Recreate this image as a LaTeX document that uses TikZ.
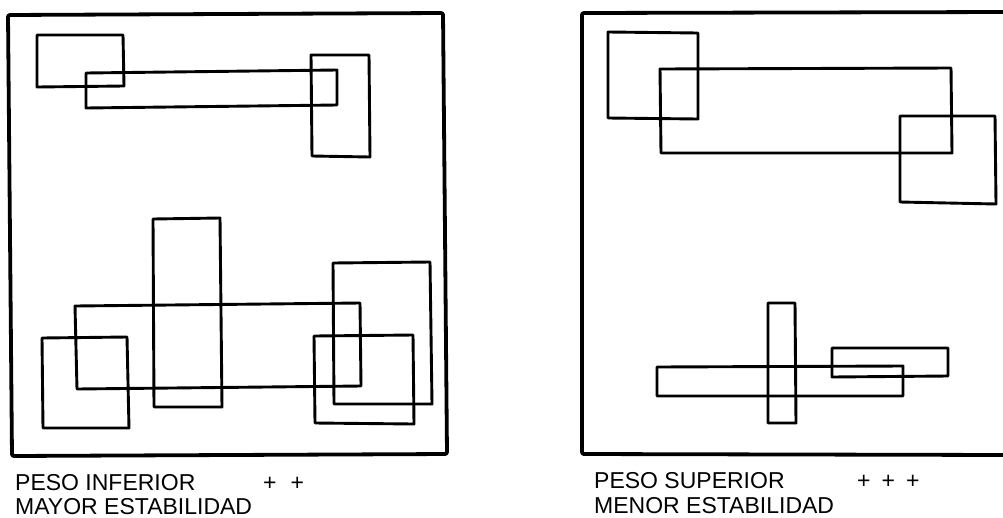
\documentclass[tikz,border=0pt]{standalone}
\usepackage{fontspec}
\setmainfont{Liberation Sans}
\begin{document}
\begin{tikzpicture}[x=1pt,y=-1pt,
  frame/.style={line width=3.8pt, line join=round, rounded corners=2pt},
  piece/.style={line width=2.9pt, line join=round},
  lbl/.style={font=\fontsize{23}{27}\selectfont, inner sep=0pt, text depth=0pt, anchor=base west}]
\useasboundingbox (0,0) rectangle (1003,517);
\clip (0,0) rectangle (1003,517);
% ---------- left panel ----------
\draw[frame] (8,15) -- (443,13) -- (447,454) -- (12,456) -- cycle;
% upper group
\draw[piece] (37,35) -- (123,35) -- (124,86) -- (37,87) -- cycle;
\draw[piece] (86,73) -- (337,70) -- (337,105) -- (86,108) -- cycle;
\draw[piece] (311,55) -- (369,55) -- (370,157) -- (312,156) -- cycle;
% lower group
\draw[piece] (153,219) -- (220,218) -- (222,407) -- (154,407) -- cycle;
\draw[piece] (75,306) -- (360,303) -- (361,386) -- (77,389) -- cycle;
\draw[piece] (42,338) -- (127,337) -- (129,428) -- (43,428) -- cycle;
\draw[piece] (333,263) -- (430,262) -- (432,404) -- (334,404) -- cycle;
\draw[piece] (314,336) -- (413,335) -- (414,424) -- (315,423) -- cycle;
\node[lbl] (l1) at (15,490) {PESO INFERIOR};
\node[lbl] (l2) at (263,490) {+\hspace{14pt}+};
\node[lbl] (l3) at (15,514) {MAYOR ESTABILIDAD};
% ---------- right panel ----------
\draw[frame] (1010,12) -- (582,13) -- (582,454) -- (1010,455);
% upper group
\draw[piece] (608,32) -- (698,33) -- (698,119) -- (608,118) -- cycle;
\draw[piece] (660,69) -- (951,68) -- (952,153) -- (661,153) -- cycle;
\draw[piece] (900,116) -- (995,116) -- (996,204) -- (900,202) -- cycle;
% lower group
\draw[piece] (768,303) -- (795,303) -- (796,423) -- (768,423) -- cycle;
\draw[piece] (657,367) -- (903,366) -- (903,396) -- (657,396) -- cycle;
\draw[piece] (832,348) -- (948,348) -- (948,376) -- (832,377) -- cycle;
\node[lbl] (r1) at (594,488) {PESO SUPERIOR};
\node[lbl] (r2) at (857,488) {+\hspace{11pt}+\hspace{11pt}+};
\node[lbl] (r3) at (594,513) {MENOR ESTABILIDAD};
\end{tikzpicture}
\end{document}
